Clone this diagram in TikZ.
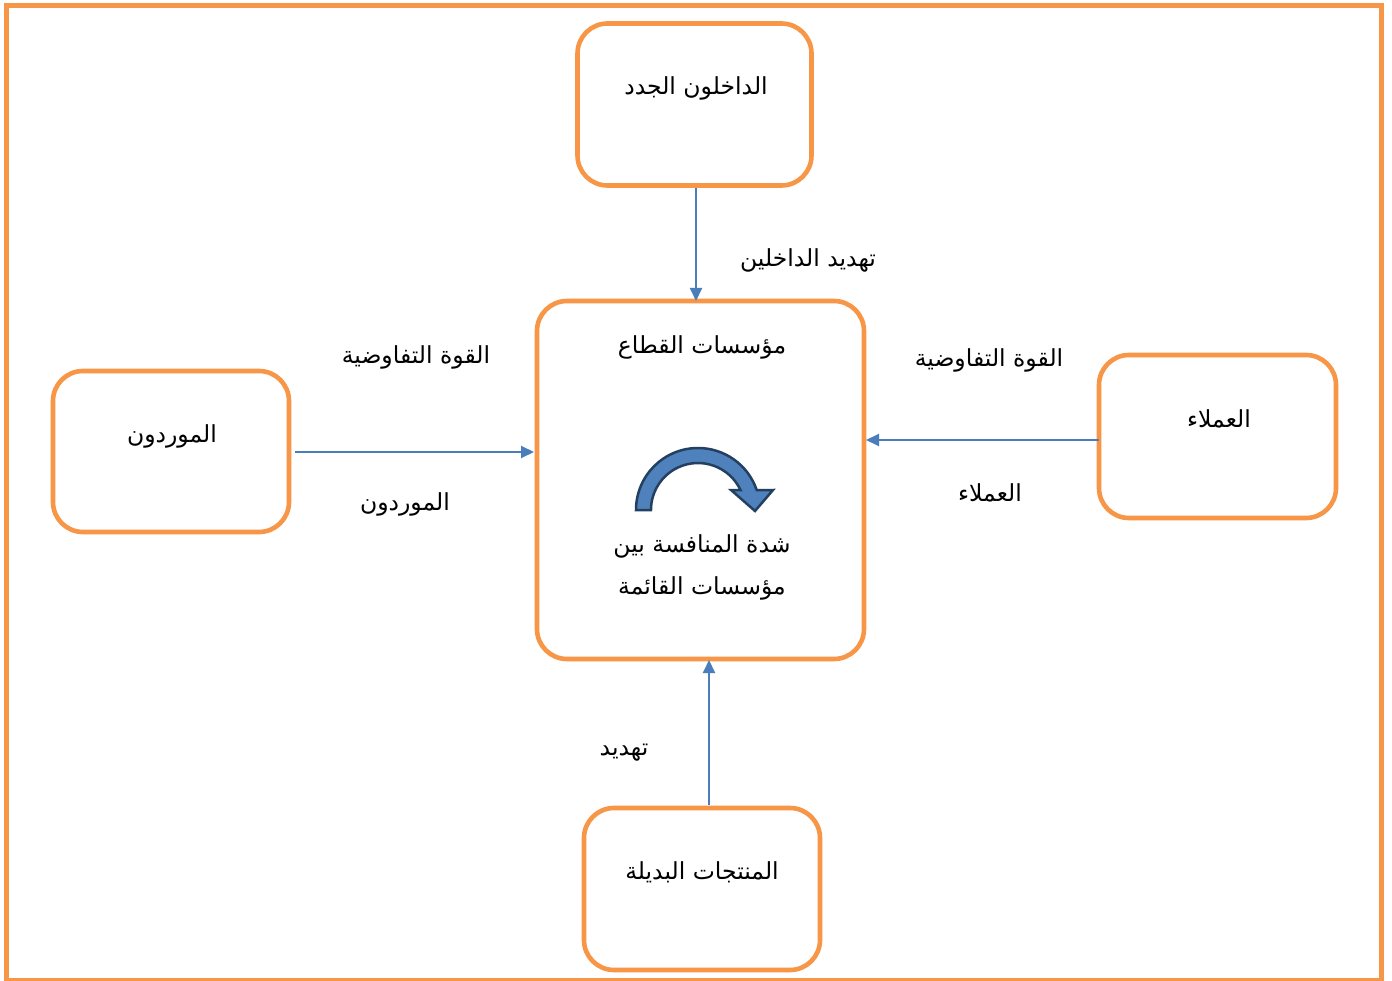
\documentclass[tikz,border=0pt]{standalone}
\usepackage{fontspec}
\newfontfamily\arabicfont[Script=Arabic]{DejaVu Sans}
\TeXXeTstate=1
\definecolor{boxorange}{RGB}{247,150,70}
\definecolor{lineblue}{RGB}{74,126,187}
\definecolor{arrowfill}{RGB}{79,129,189}
\definecolor{arrowedge}{RGB}{36,64,97}
\tikzset{
  box/.style={draw=boxorange, line width=4.6pt, rounded corners=30pt, fill=white},
  conn/.style={draw=lineblue, line width=2pt, -{Triangle[length=13pt,width=12pt]}},
  lbl/.style={font=\arabicfont\fontsize{23.5}{28}\selectfont, text=black, inner sep=0pt, align=center},
}
\usetikzlibrary{arrows.meta}
\begin{document}
\begin{tikzpicture}[x=1pt,y=-1pt]
\useasboundingbox (0,0) rectangle (1392,981);
\fill[white] (0,0) rectangle (1392,981);
\draw[boxorange, line width=5pt] (6.5,5.5) rectangle (1381,980);
% boxes
\draw[box] (577.5,23.5) rectangle (811.5,185.5);
\draw[box] (537,301) rectangle (864,659);
\draw[box] (53,371) rectangle (289,532);
\draw[box] (1099,355) rectangle (1336,518);
\draw[box] (584,808) rectangle (820,970);
\coordinate (topS) at (696,188);
\coordinate (topE) at (696,301);
\coordinate (leftS) at (295,452);
\coordinate (leftE) at (534,452);
\coordinate (rightS) at (1099,440);
\coordinate (rightE) at (866,440);
\coordinate (botS) at (709,805);
\coordinate (botE) at (709,660);
\draw[conn] (topS) -- (topE);
\draw[conn] (leftS) -- (leftE);
\draw[conn] (rightS) -- (rightE);
\draw[conn] (botS) -- (botE);
% texts
\node[lbl] (t1) at (696,88) {\beginR الداخلون الجدد\endR};
\node[lbl] (t2) at (808,260) {\beginR تهديد الداخلين\endR};
\node[lbl] (t3) at (702,347) {\beginR مؤسسات القطاع\endR};
\node[lbl] (t4) at (416,357) {\beginR القوة التفاوضية\endR};
\node[lbl] (t5) at (989,360) {\beginR القوة التفاوضية\endR};
\node[lbl] (t6) at (172,436) {\beginR الموردون\endR};
\node[lbl] (t7) at (1219,419) {\beginR العملاء\endR};
\node[lbl] (t8) at (405,504) {\beginR الموردون\endR};
\node[lbl] (t9) at (990,493) {\beginR العملاء\endR};
\node[lbl] (t10) at (702,546) {\beginR شدة المنافسة بين\endR};
\node[lbl] (t11) at (702,588) {\beginR مؤسسات القائمة\endR};
\node[lbl] (t12) at (624,753) {\beginR تهديد\endR};
\node[lbl] (t13) at (702,872) {\beginR المنتجات البديلة\endR};
% curved arrow
\filldraw[fill=arrowfill, draw=arrowedge, line width=2.5pt, line join=miter]
  (636,510) arc[start angle=180, end angle=341.2, radius=62]
  -- (773,490) -- (755,511) -- (731,490)
  -- (740.5,490) arc[start angle=334.8, end angle=180, radius=47] -- cycle;
\end{tikzpicture}
\end{document}
